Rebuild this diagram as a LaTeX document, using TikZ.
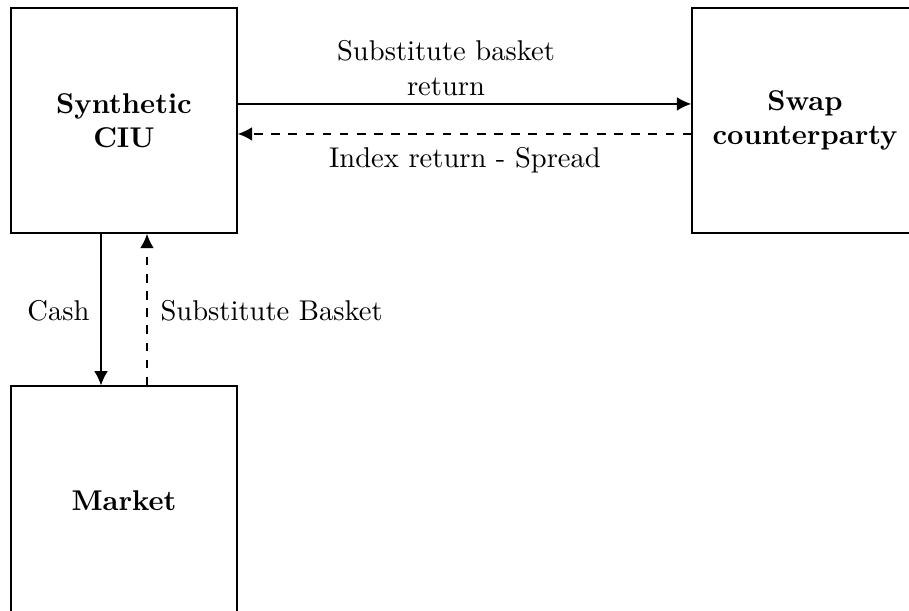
\documentclass[tikz,border=0pt]{standalone}
\usetikzlibrary{arrows.meta}
\begin{document}
\begin{tikzpicture}[x=0.35pt,y=-0.35pt,
  box/.style={draw,line width=0.55pt,minimum width=79.1pt,minimum height=78.75pt,inner sep=0pt,align=center,font=\bfseries},
  flow/.style={line width=0.55pt,-{Latex[length=5pt,width=4.8pt]}},
  lbl/.style={inner sep=0pt,align=center}]
\useasboundingbox (0,0) rectangle (909,610);
\clip (0,0) rectangle (909,610);
\node[box] (ciu) at (124,120.5) {Synthetic\\CIU};
\node[box] (swap) at (805,120.5) {Swap\\counterparty};
\node[box,minimum height=80pt] (mkt) at (124,500.5) {Market};
\draw[flow] ([yshift=5.8pt]ciu.east) -- ([yshift=5.8pt]swap.west);
\draw[flow,dashed] ([yshift=-4.7pt]swap.west) -- ([yshift=-4.7pt]ciu.east);
\draw[flow] ([xshift=-8.05pt]ciu.south) -- ([xshift=-8.05pt]mkt.north);
\draw[flow,dashed] ([xshift=8.05pt]mkt.north) -- ([xshift=8.05pt]ciu.south);
\node[lbl] (l1) at (446,68) {Substitute basket\\return};
\node[lbl] (l2) at (465,160) {Index return - Spread};
\node[lbl,anchor=east] (l3) at (90,311) {Cash};
\node[lbl,anchor=west] (l4) at (160,311) {Substitute Basket};
\end{tikzpicture}
\end{document}
